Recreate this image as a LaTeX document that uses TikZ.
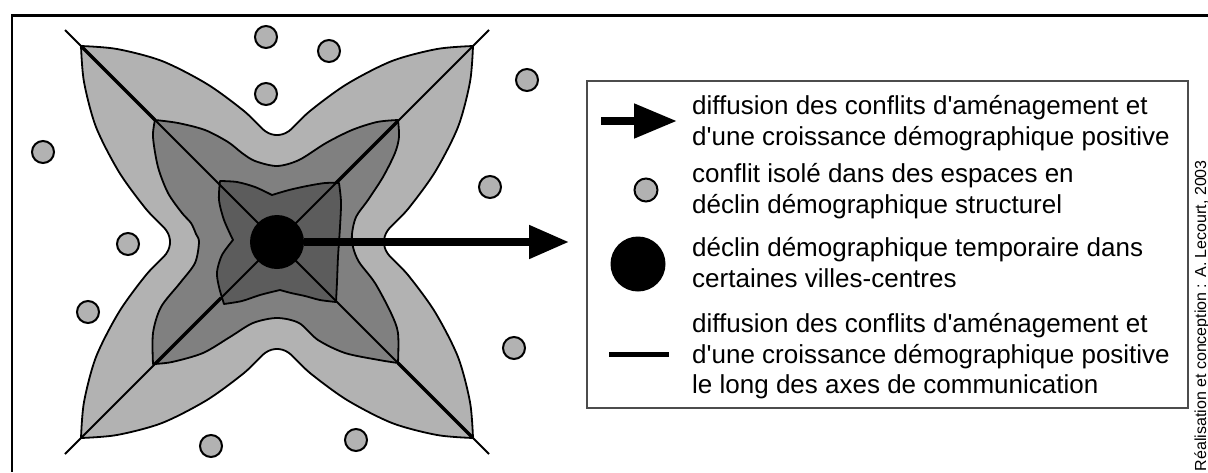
\documentclass[tikz,border=0pt]{standalone}
\usepackage{fontspec}
\setmainfont{Liberation Sans}
\newfontfamily\legendfont{Liberation Sans}
\usetikzlibrary{arrows.meta,positioning}

\definecolor{zoneout}{gray}{0.70}
\definecolor{zonemid}{gray}{0.50}
\definecolor{zonein}{gray}{0.36}
\definecolor{dotgray}{gray}{0.70}
\definecolor{cadregray}{gray}{0.30}

\begin{document}
\begin{tikzpicture}[
  x=1pt, y=-1pt,
  zone/.style={draw=black, line width=1.8pt, line join=round},
  axe/.style={line width=2pt},
  axefort/.style={line width=3.4pt},
  conflit/.style={circle, draw=black, line width=2pt, fill=dotgray, minimum size=22pt, inner sep=0pt},
  ville/.style={circle, fill=black, minimum size=54pt, inner sep=0pt},
  fleche/.style={line width=8pt, -{Triangle[length=40pt, width=32pt]}},
  txt/.style={anchor=north west, align=left, inner sep=0pt, font=\legendfont\fontsize{26}{30.5}\selectfont}
]
\fill[white] (0,0) rectangle (1208,472);
\useasboundingbox (0,0) rectangle (1208,472);

% cadre
\draw[line width=3pt] (12,15) -- (1208,15);
\draw[line width=2pt] (12,14) -- (12,472);

% etoile des zones
\begin{scope}[shift={(277,242)}]
\filldraw[zone, fill=zoneout] (-196,-196)
  -- plot[smooth] coordinates {(-196,-196) (-160,-193) (-115,-181) (-70,-158) (-33,-131) (-12,-111) (0,-107) (12,-111) (33,-131) (70,-158) (115,-181) (160,-193) (196,-196)}
  -- plot[smooth] coordinates {(196,-196) (193,-160) (181,-115) (158,-70) (131,-33) (111,-12) (107,0) (111,12) (131,33) (158,70) (181,115) (193,160) (196,196)}
  -- plot[smooth] coordinates {(196,196) (160,193) (115,181) (70,158) (33,131) (12,111) (0,107) (-12,111) (-33,131) (-70,158) (-115,181) (-160,193) (-196,196)}
  -- plot[smooth] coordinates {(-196,196) (-193,160) (-181,115) (-158,70) (-131,33) (-111,12) (-107,0) (-111,-12) (-131,-33) (-158,-70) (-181,-115) (-193,-160) (-196,-196)}
  -- cycle;
\filldraw[zone, fill=zonemid] (-122,-122)
  -- plot[smooth] coordinates {(-122,-122) (-99,-119) (-72,-112) (-49,-100) (-35,-89) (-22,-81) (0,-76) (22,-82) (49,-99) (75,-112) (100,-120) (121,-122)}
  -- plot[smooth] coordinates {(121,-122) (122,-105) (118,-89) (106,-65) (91,-42) (79,-25) (75,-8) (76,5) (82,20) (98,41) (114,71) (121,91) (121,121)}
  -- plot[smooth] coordinates {(121,121) (102,118) (68,111) (41,98) (22,81) (0,76) (-24,81) (-47,95) (-74,111) (-105,120) (-124,122)}
  -- plot[smooth] coordinates {(-124,122) (-124,91) (-116,65) (-97,41) (-82,21) (-78,0) (-81,-8) (-86,-19) (-95,-29) (-109,-49) (-119,-75) (-124,-105) (-122,-122)}
  -- cycle;
\filldraw[zone, fill=zonein] (-57,-61)
  -- plot[smooth] coordinates {(-57,-61) (-40,-60) (-22,-55) (-5,-47)}
  -- plot[smooth] coordinates {(-5,-47) (12,-52) (30,-56) (48,-59) (62,-59)}
  -- plot[smooth] coordinates {(62,-59) (64,-40) (63,-15) (61,15) (60,40) (59,60)}
  -- plot[smooth] coordinates {(59,60) (43,58) (28,54) (14,51) (3,48)}
  -- plot[smooth] coordinates {(3,48) (-17,53) (-35,59) (-53,62)}
  -- plot[smooth] coordinates {(-53,62) (-58,45) (-60,30) (-55,13) (-44,-2)}
  -- plot[smooth] coordinates {(-44,-2) (-53,-22) (-58,-42) (-57,-61)}
  -- cycle;

% axes de communication
\coordinate (nw) at (-212,-212);
\coordinate (se) at (212,212);
\coordinate (ne) at (212,-212);
\coordinate (sw) at (-212,212);
\draw[axe] (nw) -- (se);
\draw[axe] (ne) -- (sw);
\draw[axefort] (121,-121) -- (59,-59);
\draw[axefort] (-122,122) -- (-56,56);
\draw[axefort] (-196,-196) -- (-122,-122);
\draw[axefort] (196,196) -- (121,121);
\end{scope}

% ville-centre et diffusion
\node[ville] (city) at (277,242) {};
\coordinate (fin) at (569,242);
\draw[fleche] (city.east) -- (fin);

% conflits isoles
\foreach \px/\py [count=\i] in {266/37, 329/51, 266/94, 527/80, 43/152, 490/187, 128/244, 88/312, 514/348, 211/446, 356/440}
  \node[conflit] (d\i) at (\px,\py) {};

% legende
\node[draw=cadregray, line width=1.6pt, minimum width=601pt, minimum height=327pt, inner sep=0pt] (legende) at (887.5,244.5) {};
\coordinate (la1) at (601,121);
\coordinate (la2) at (677,121);
\draw[line width=8pt, -{Triangle[length=43pt, width=33pt]}] (la1) -- (la2);
\node[conflit, minimum size=23pt] (lconflit) at (646,190) {};
\node[ville, minimum size=55pt] (lville) at (638,264) {};
\coordinate (ll1) at (609,354);
\coordinate (ll2) at (669,354);
\draw[line width=5pt] (ll1) -- (ll2);

\node[txt] (t1) at (692,95.5) {diffusion des conflits d'aménagement et\\d'une croissance démographique positive};
\node[txt] (t2) at (692,163.5) {conflit isolé dans des espaces en\\déclin démographique structurel};
\node[txt] (t3) at (692,237.5) {déclin démographique temporaire dans\\certaines villes-centres};
\node[txt] (t4) at (692,313.5) {diffusion des conflits d'aménagement et\\d'une croissance démographique positive\\le long des axes de communication};

% credit
\node[rotate=90, anchor=base east, inner sep=0pt, font=\legendfont\fontsize{16}{16}\selectfont] (credit) at (1206,160) {Réalisation et conception : A. Lecourt, 2003};
\end{tikzpicture}
\end{document}
